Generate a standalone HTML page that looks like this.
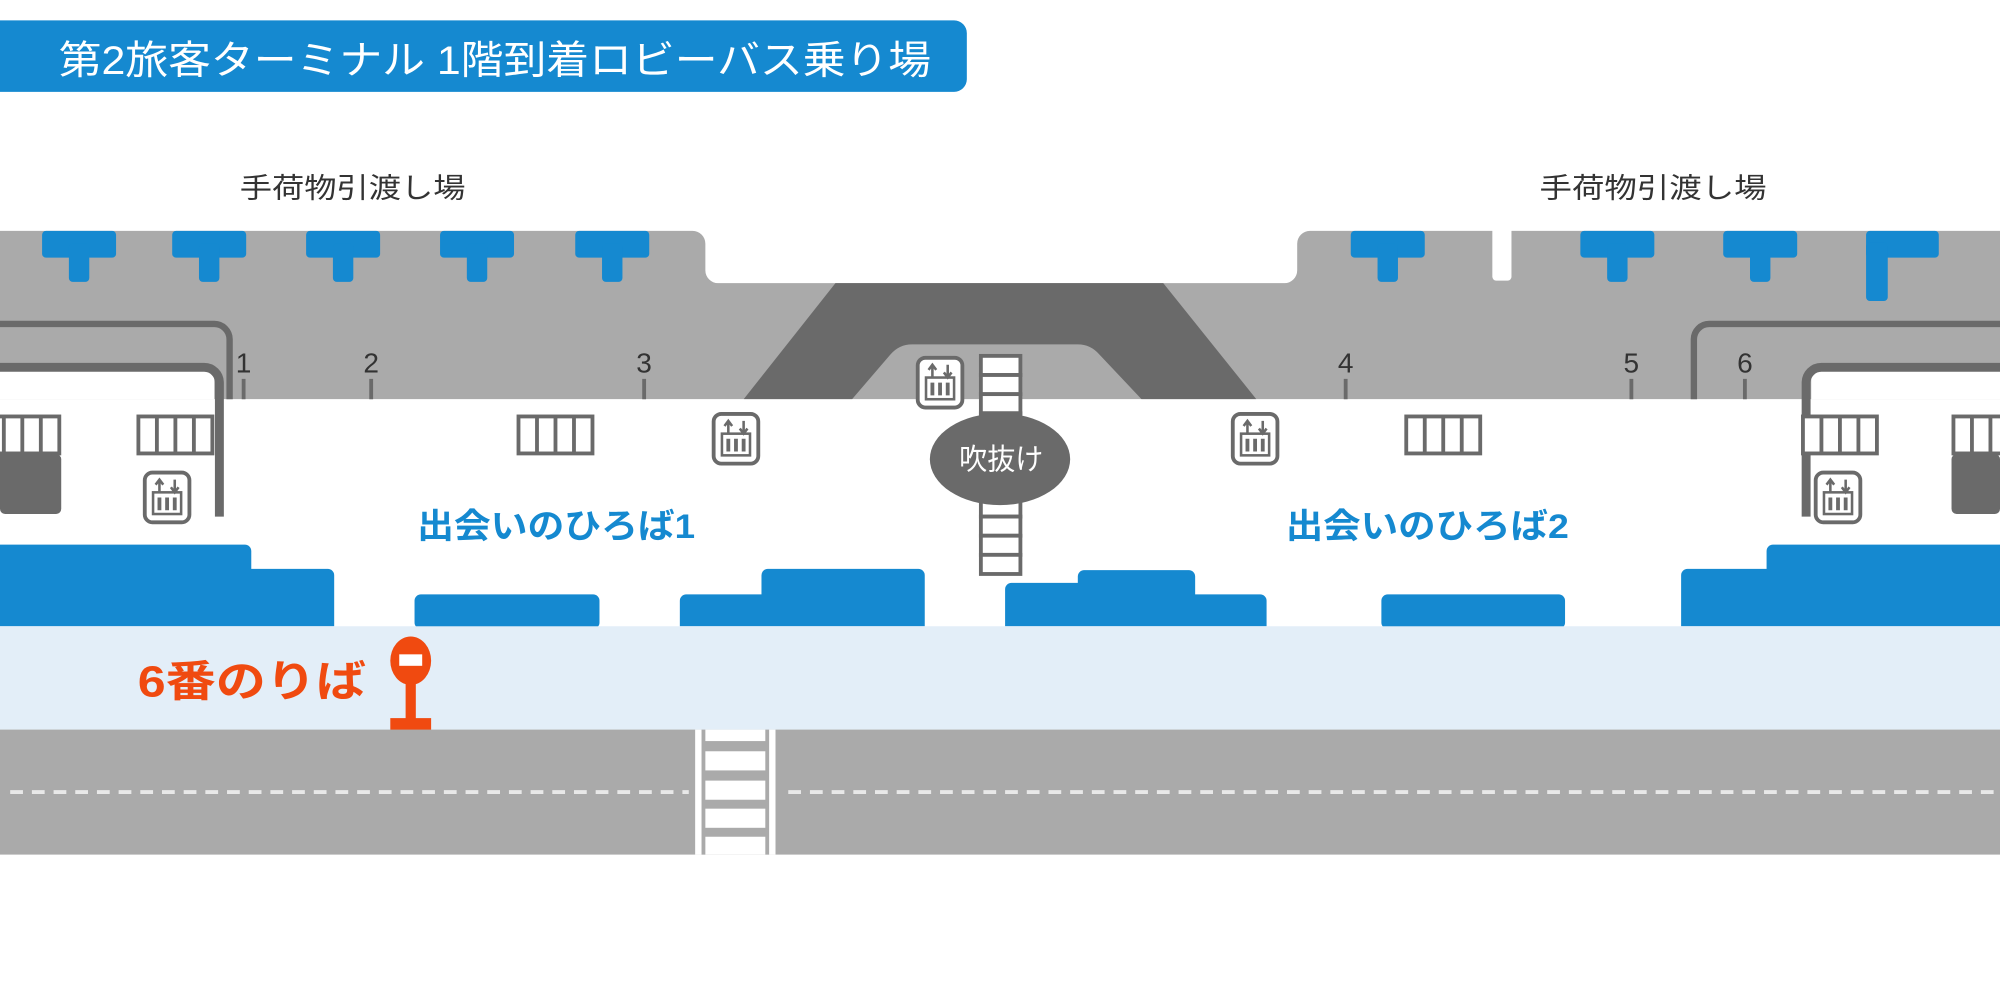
<!DOCTYPE html>
<html><head><meta charset="utf-8"><style>
html,body{margin:0;padding:0;background:#fff;}
svg{display:block;}
text{font-family:"Liberation Sans","Noto Sans CJK JP",sans-serif;}
</style></head><body>
<svg width="2000" height="1000" viewBox="0 0 1568 784" xmlns="http://www.w3.org/2000/svg">
<defs>
<g id="elev">
<rect x="1.5" y="1.5" width="35" height="39" rx="6" fill="#fff" stroke="#6a6a6a" stroke-width="3"/>
<rect x="8" y="17" width="22" height="17" fill="none" stroke="#6a6a6a" stroke-width="2"/>
<path d="M13 17 V8 M10 11 L13 7 L16 11 M25 7 V16 M22 13 L25 17 L28 13" stroke="#6a6a6a" stroke-width="2" fill="none"/>
<path d="M13 21 V31 M19 21 V31 M25 21 V31" stroke="#6a6a6a" stroke-width="3"/>
</g>
<g id="gate">
<rect x="1.5" y="1.5" width="58" height="29" fill="#fff" stroke="#6a6a6a" stroke-width="3"/>
<path d="M16 2 V30 M30.5 2 V30 M45 2 V30" stroke="#6a6a6a" stroke-width="3"/>
</g>
<g id="tee"><rect x="0" y="0" width="58" height="21" rx="3" fill="#1589d0"/><rect x="21" y="10" width="16" height="30" rx="3" fill="#1589d0"/></g>
</defs>

<!-- title -->
<path d="M0 16 H748 a10 10 0 0 1 10 10 V62 a10 10 0 0 1 -10 10 H0 Z" fill="#1589d0"/>
<text x="46" y="58" font-size="31" fill="#fff" textLength="684" lengthAdjust="spacingAndGlyphs">第2旅客ターミナル 1階到着ロビーバス乗り場</text>

<text x="188" y="155" font-size="22" fill="#333" textLength="177" lengthAdjust="spacingAndGlyphs">手荷物引渡し場</text>
<text x="1207" y="155" font-size="22" fill="#333" textLength="178" lengthAdjust="spacingAndGlyphs">手荷物引渡し場</text>

<!-- gray band -->
<path d="M0 181 H543 a10 10 0 0 1 10 10 V212 a10 10 0 0 0 10 10 H1007 a10 10 0 0 0 10 -10 V191 a10 10 0 0 1 10 -10 H1568 V313 H0 Z" fill="#aaaaaa"/>
<rect x="1170" y="178" width="15" height="42" rx="3" fill="#fff"/>
<path d="M655 222 H912 L985 313 H895 L862 278 Q855 270 845 270 H715 Q705 270 698 278 L668 313 H583 Z" fill="#6a6a6a"/>

<use href="#tee" x="33" y="181"/><use href="#tee" x="135" y="181"/><use href="#tee" x="240" y="181"/><use href="#tee" x="345" y="181"/><use href="#tee" x="451" y="181"/>
<use href="#tee" x="1059" y="181"/><use href="#tee" x="1239" y="181"/><use href="#tee" x="1351" y="181"/>
<rect x="1463" y="181" width="57" height="21" rx="3" fill="#1589d0"/><rect x="1463" y="190" width="17" height="46" rx="3" fill="#1589d0"/>

<rect x="0" y="313" width="1568" height="180" fill="#fff"/>
<path d="M0 254 H168 a12 12 0 0 1 12 12 V313" fill="none" stroke="#6a6a6a" stroke-width="5"/>
<rect x="0" y="291" width="168" height="22" fill="#fff"/>
<path d="M0 288 H160 a12 12 0 0 1 12 12 V405" fill="none" stroke="#6a6a6a" stroke-width="7"/>
<path d="M1568 254 H1340 a12 12 0 0 0 -12 12 V313" fill="none" stroke="#6a6a6a" stroke-width="5"/>
<rect x="1420" y="291" width="148" height="22" fill="#fff"/>
<path d="M1568 288 H1428 a12 12 0 0 0 -12 12 V405" fill="none" stroke="#6a6a6a" stroke-width="7"/>

<g font-size="22" fill="#333" text-anchor="middle">
<text x="191" y="292">1</text><text x="291" y="292">2</text><text x="505" y="292">3</text>
<text x="1055" y="292">4</text><text x="1279" y="292">5</text><text x="1368" y="292">6</text>
</g>
<path d="M191 297 V313 M291 297 V313 M505 297 V313 M1055 297 V313 M1279 297 V313 M1368 297 V313" stroke="#6a6a6a" stroke-width="3"/>

<use href="#gate" x="-13" y="325"/><rect x="0" y="356" width="48" height="47" rx="4" fill="#6a6a6a"/><rect x="0" y="355" width="40" height="10" fill="#6a6a6a"/>
<use href="#gate" x="107" y="325"/>
<use href="#gate" x="405" y="325"/>
<use href="#gate" x="1101" y="325"/>
<use href="#gate" x="1412" y="325"/>
<use href="#gate" x="1530" y="325"/><rect x="1530" y="356" width="38" height="47" rx="4" fill="#6a6a6a"/>

<use href="#elev" x="112" y="369"/>
<use href="#elev" x="558" y="323"/>
<use href="#elev" x="718" y="279"/>
<use href="#elev" x="965" y="323"/>
<use href="#elev" x="1422" y="369"/>

<g fill="#fff" stroke="#6a6a6a" stroke-width="3">
<rect x="769" y="279" width="31" height="15"/><rect x="769" y="294" width="31" height="15"/><rect x="769" y="309" width="31" height="15"/><rect x="769" y="324" width="31" height="15"/>
<rect x="769" y="390" width="31" height="15"/><rect x="769" y="405" width="31" height="15"/><rect x="769" y="420" width="31" height="15"/><rect x="769" y="435" width="31" height="15"/>
</g>
<ellipse cx="784" cy="360" rx="55" ry="36" fill="#6a6a6a"/>
<text x="752" y="368" font-size="23" fill="#fff" textLength="66" lengthAdjust="spacingAndGlyphs">吹抜け</text>

<text x="327" y="422" font-size="27" font-weight="bold" fill="#1589d0" textLength="218" lengthAdjust="spacingAndGlyphs">出会いのひろば1</text>
<text x="1008" y="422" font-size="27" font-weight="bold" fill="#1589d0" textLength="222" lengthAdjust="spacingAndGlyphs">出会いのひろば2</text>

<g fill="#1589d0">
<path d="M0 427 H192 a5 5 0 0 1 5 5 V446 H257 a5 5 0 0 1 5 5 V491 H0 Z"/>
<rect x="325" y="466" width="145" height="27" rx="5"/>
<path d="M538 466 H597 V451 a5 5 0 0 1 5 -5 H720 a5 5 0 0 1 5 5 V491 H533 V471 a5 5 0 0 1 5 -5 Z"/>
<path d="M793 457 H845 V452 a5 5 0 0 1 5 -5 H932 a5 5 0 0 1 5 5 V466 H988 a5 5 0 0 1 5 5 V491 H788 V462 a5 5 0 0 1 5 -5 Z"/>
<rect x="1083" y="466" width="144" height="27" rx="5"/>
<path d="M1323 446 H1385 V432 a5 5 0 0 1 5 -5 H1568 V491 H1318 V451 a5 5 0 0 1 5 -5 Z"/>
</g>

<rect x="0" y="491" width="1568" height="81" fill="#e3eef8"/>
<text x="108" y="546" font-size="34" font-weight="bold" fill="#f04a10" textLength="179" lengthAdjust="spacingAndGlyphs">6番のりば</text>
<ellipse cx="322" cy="518" rx="16" ry="19" fill="#f04a10"/>
<rect x="313" y="513" width="18" height="9" fill="#fff"/>
<rect x="318" y="530" width="8" height="36" fill="#f04a10"/>
<rect x="306" y="563" width="32" height="10" fill="#f04a10"/>

<rect x="0" y="572" width="1568" height="98" fill="#aaaaaa"/>
<rect x="545" y="572" width="63" height="98" fill="#fff"/>
<rect x="550" y="572" width="53" height="98" fill="#aaaaaa"/>
<g fill="#fff">
<rect x="553" y="572" width="47" height="9"/><rect x="553" y="589" width="47" height="15"/><rect x="553" y="612" width="47" height="15"/><rect x="553" y="634" width="47" height="15"/><rect x="553" y="656" width="47" height="14"/>
</g>
<path d="M8 621 H540 M618 621 H1568" stroke="#e8e8e8" stroke-width="3" stroke-dasharray="10 7"/>
</svg>
</body></html>
